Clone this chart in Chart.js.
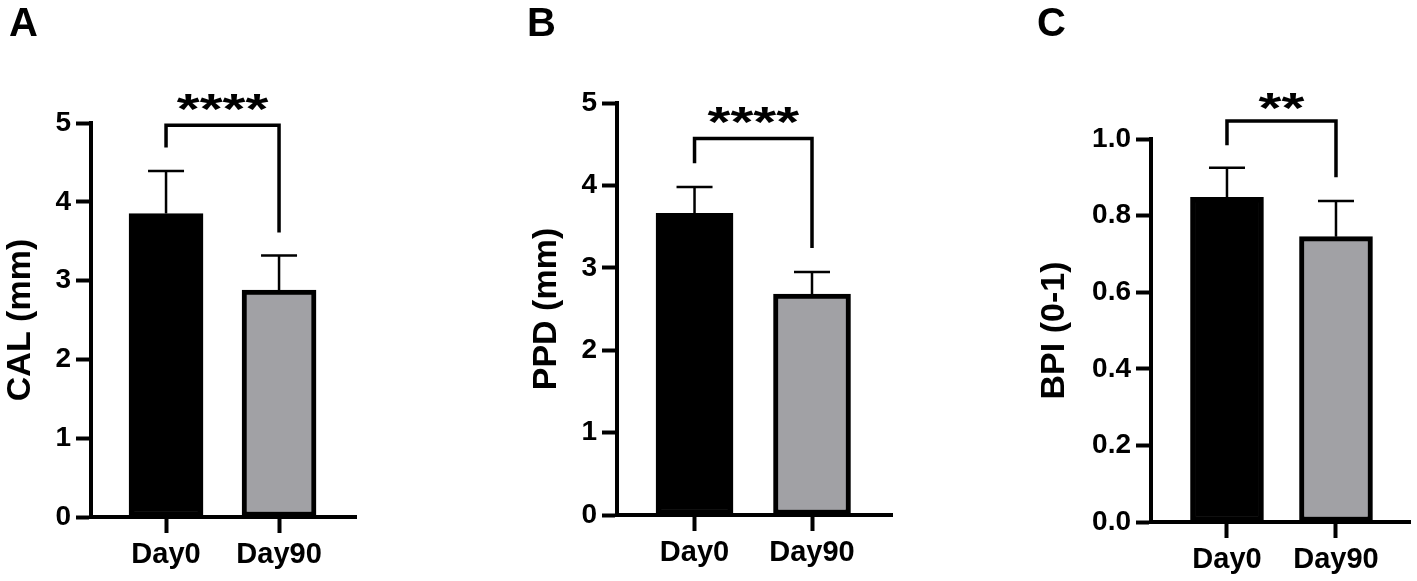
<!DOCTYPE html>
<html><head><meta charset="utf-8">
<script src="https://cdn.jsdelivr.net/npm/chart.js@4.4.1/dist/chart.umd.min.js"></script>
<style>
html,body{margin:0;padding:0;background:#fff;width:1417px;height:581px;overflow:hidden;position:relative}
canvas{position:absolute;top:0}
</style></head><body>
<canvas id="cA" width="520" height="581" style="left:0px"></canvas>
<canvas id="cB" width="504" height="581" style="left:526px"></canvas>
<canvas id="cC" width="383" height="581" style="left:1034px"></canvas>
<script>
// ---- data ----
const categories = ['Day0', 'Day90'];
const calMean = [3.85, 2.88];
const calSD   = [0.54, 0.44];
const ppdMean = [3.66, 2.68];
const ppdSD   = [0.32, 0.27];
const bpiMean = [0.848, 0.745];
const bpiSD   = [0.077, 0.093];
const calTicks = [0, 1, 2, 3, 4, 5];
const ppdTicks = [0, 1, 2, 3, 4, 5];
const bpiTicks = [0, 0.2, 0.4, 0.6, 0.8, 1.0];
// significance brackets: [top level, left end, right end, label level] in data units
const calBracket = [4.97, 4.69, 3.61, 5.30];
const ppdBracket = [4.57, 4.27, 3.24, 4.89];
const bpiBracket = [1.047, 0.984, 0.90, 1.106];
const calSig = '****';
const ppdSig = '****';
const bpiSig = '**';

const FONT = '"Liberation Sans", Arial, sans-serif';
const barColors = ['#000000', '#a1a1a5'];

function makeAnnot(p) {
  return {
    id: 'annot',
    afterDatasetsDraw(chart) {
      const ctx = chart.ctx, xs = chart.scales.x, ys = chart.scales.y;
      const meta = chart.getDatasetMeta(0);
      ctx.save();
      ctx.strokeStyle = '#000';
      ctx.fillStyle = '#000';
      ctx.lineWidth = 2.5;
      meta.data.forEach((bar, i) => {
        const yTop = ys.getPixelForValue(p.mean[i]);
        const yErr = ys.getPixelForValue(p.mean[i] + p.sd[i]);
        ctx.beginPath();
        ctx.moveTo(bar.x, yTop); ctx.lineTo(bar.x, yErr);
        ctx.moveTo(bar.x - 18, yErr); ctx.lineTo(bar.x + 18, yErr);
        ctx.stroke();
      });
      const x0 = xs.getPixelForValue(0), x1 = xs.getPixelForValue(1);
      const [bt, bl, br, bs] = p.bracket;
      ctx.lineWidth = 3.5;
      ctx.lineJoin = 'miter';
      ctx.beginPath();
      ctx.moveTo(x0, ys.getPixelForValue(bl));
      ctx.lineTo(x0, ys.getPixelForValue(bt));
      ctx.lineTo(x1, ys.getPixelForValue(bt));
      ctx.lineTo(x1, ys.getPixelForValue(br));
      ctx.stroke();
      // stars
      ctx.font = 'bold 42px ' + FONT;
      ctx.textAlign = 'center';
      ctx.textBaseline = 'alphabetic';
      ctx.translate((x0 + x1) / 2, ys.getPixelForValue(bs) + 24);
      ctx.scale(1.4, 1);
      ctx.fillText(p.sig, 0, 0);
      ctx.restore();
      // panel letter
      ctx.save();
      ctx.fillStyle = '#000';
      ctx.font = 'bold 40px ' + FONT;
      ctx.textAlign = 'left';
      ctx.textBaseline = 'alphabetic';
      ctx.fillText(p.letter, p.letterX, 36);
      ctx.restore();
    }
  };
}

function makePanel(id, p) {
  return new Chart(document.getElementById(id), {
    type: 'bar',
    data: {
      datasets: [{
        data: p.mean.map((v, i) => ({ x: i, y: v })),
        backgroundColor: barColors,
        borderColor: '#000',
        borderWidth: 5,
        borderSkipped: false,
        barThickness: p.barW
      }]
    },
    options: {
      responsive: false, animation: false, devicePixelRatio: 1,
      layout: { padding: { left: 0, top: p.top, right: p.right, bottom: 0 } },
      plugins: { legend: { display: false }, tooltip: { enabled: false } },
      scales: {
        x: {
          type: 'linear', min: p.xmin, max: p.xmax, offset: false,
          afterBuildTicks: s => { s.ticks = categories.map((c, i) => ({ value: i })); },
          afterFit: s => { s.height = p.xh; },
          grid: { display: true, drawOnChartArea: false, offset: false, tickLength: 16, tickWidth: 4, tickColor: '#000' },
          border: { display: true, width: 4, color: '#000' },
          ticks: { color: '#000', padding: 5, maxRotation: 0, autoSkip: false,
                   font: { family: FONT, weight: 'bold', size: 29 },
                   callback: v => categories[v] }
        },
        y: {
          min: 0, max: p.ticks[p.ticks.length - 1],
          afterBuildTicks: s => { s.ticks = p.ticks.map(v => ({ value: v })); },
          afterFit: s => { s.width = p.yw; },
          grid: { display: true, drawOnChartArea: false, tickLength: 15, tickWidth: 4, tickColor: '#000' },
          border: { display: true, width: 4, color: '#000' },
          ticks: { color: '#000', padding: 5, autoSkip: false,
                   font: { family: FONT, weight: 'bold', size: 28 },
                   callback: v => p.fmt(v) },
          title: { display: true, text: p.title, color: '#000', padding: 0,
                   font: { family: FONT, weight: 'bold', size: 34, lineHeight: 1.2 } }
        }
      }
    },
    plugins: [makeAnnot(p)]
  });
}

makePanel('cA', { mean: calMean, sd: calSD, ticks: calTicks, bracket: calBracket, sig: calSig,
  title: 'CAL (mm)', letter: 'A', letterX: 9, fmt: v => String(v),
  top: 123, right: 164, xh: 64, yw: 91, xmin: -0.664, xmax: 1.681, barW: 74 });
makePanel('cB', { mean: ppdMean, sd: ppdSD, ticks: ppdTicks, bracket: ppdBracket, sig: ppdSig,
  title: 'PPD (mm)', letter: 'B', letterX: 1, fmt: v => String(v),
  top: 103, right: 138, xh: 66, yw: 91, xmin: -0.660, xmax: 1.681, barW: 77 });
makePanel('cC', { mean: bpiMean, sd: bpiSD, ticks: bpiTicks, bracket: bpiBracket, sig: bpiSig,
  title: 'BPI (0-1)', letter: 'C', letterX: 3, fmt: v => v.toFixed(1),
  top: 139, right: 7, xh: 59, yw: 117, xmin: -0.697, xmax: 1.679, barW: 73 });
</script>
</body></html>
